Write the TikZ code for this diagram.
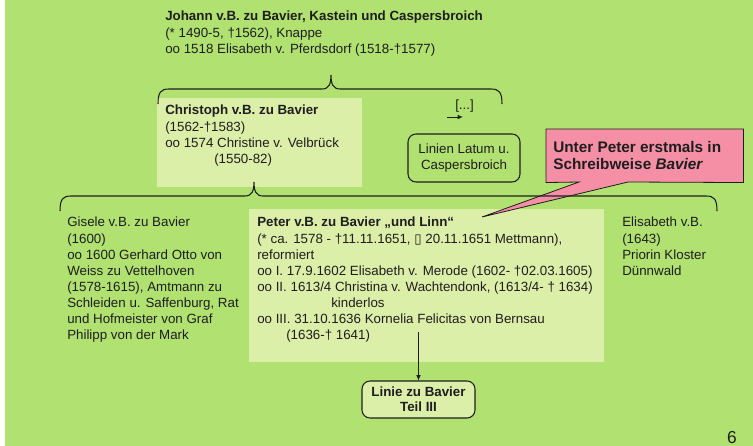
\documentclass[tikz,border=0pt]{standalone}
\usepackage{fontspec}
\setmainfont{Liberation Sans}
\newfontfamily\symfont{DejaVu Sans}
\usetikzlibrary{arrows.meta}
\definecolor{leaf}{RGB}{177,225,113}
\definecolor{pale}{RGB}{220,239,169}
\definecolor{rose}{RGB}{245,143,165}
\definecolor{ink}{RGB}{30,30,30}
\tikzset{
  txt/.style={anchor=north west,inner sep=0pt,align=left,text=ink,font=\fontsize{10}{12.1}\selectfont},
  panel/.style={fill=pale,inner sep=0pt,anchor=north west},
  rbox/.style={draw=ink,rounded corners=6pt,line width=0.8pt,align=center,text=ink,font=\fontsize{10}{11.4}\selectfont,inner sep=0pt},
  brace/.style={draw=ink,line width=0.8pt},
  tip/.style={-{Latex[length=4pt,width=3.5pt]},draw=ink,line width=0.6pt}
}
\newcommand{\kinbrace}[4]{%
  \draw[brace] (#1,#4+15) .. controls (#1,#4+3) and (#1+3,#4) .. (#1+11,#4) -- (#2-9,#4)
    .. controls (#2-2,#4) and (#2,#4-5) .. (#2,#4-14) .. controls (#2,#4-5) and (#2+2,#4) .. (#2+9,#4)
    -- (#3-11,#4) .. controls (#3-3,#4) and (#3,#4+3) .. (#3,#4+15);}
\begin{document}
\begin{tikzpicture}[x=0.75pt,y=-0.75pt]
  \useasboundingbox (0,0) rectangle (753,446);
  \fill[leaf] (5,0) rectangle (753,446);
  \node[panel,minimum width=205*0.75pt,minimum height=89*0.75pt] (christophbox) at (157,98) {};
  \node[panel,minimum width=355*0.75pt,minimum height=153*0.75pt] (peterbox) at (249,209) {};
  \node[txt] (johann) at (165,11) {\textbf{Johann v.B. zu Bavier, Kastein und Caspersbroich}\\(* 1490-5, †1562), Knappe\\oo 1518 Elisabeth v. Pferdsdorf (1518-†1577)};
  \node[txt] (christoph) at (165,105) {\textbf{Christoph v.B. zu Bavier}\\(1562-†1583)\\oo 1574 Christine v. Velbrück\\\hspace*{36.75pt}(1550-82)};
  \node[txt] (more) at (455,100) {[...]};
  \coordinate (moretail) at (447,117);
  \draw[tip] (moretail) -- (463,117);
  \node[rbox,minimum width=112*0.75pt,minimum height=48*0.75pt] (linien) at (464,158) {Linien Latum u.\\Caspersbroich};
  \node[inner sep=0pt,anchor=north west,minimum width=197*0.75pt,minimum height=53*0.75pt] (note) at (546,129) {};
  \coordinate (notetip) at (482,217);
  \path[fill=rose,draw=ink,line width=0.6pt] (note.north west) -- (note.north east) -- (note.south east)
    -- (628,182) -- (notetip) -- (579,182) -- (note.south west) -- cycle;
  \node[txt,font=\fontsize{11.5}{13.2}\selectfont\bfseries] (notetext) at (553,141) {Unter Peter erstmals in\\Schreibweise \textit{Bavier}};
  \node[txt] (gisele) at (67,217) {Gisele v.B. zu Bavier\\(1600)\\oo 1600 Gerhard Otto von\\Weiss zu Vettelhoven\\(1578-1615), Amtmann zu\\Schleiden u. Saffenburg, Rat\\und Hofmeister von Graf\\Philipp von der Mark};
  \node[txt] (peter) at (257,217) {\textbf{Peter v.B. zu Bavier „und Linn“}\\(* ca. 1578 - †11.11.1651, {\symfont ▯} 20.11.1651 Mettmann),\\reformiert\\oo I. 17.9.1602 Elisabeth v. Merode (1602- †02.03.1605)\\oo II. 1613/4 Christina v. Wachtendonk, (1613/4- † 1634)\\\hspace*{55.5pt}kinderlos\\oo III. 31.10.1636 Kornelia Felicitas von Bernsau\\\hspace*{21.75pt}(1636-† 1641)};
  \node[txt] (elisabeth) at (622,217) {Elisabeth v.B.\\(1643)\\Priorin Kloster\\Dünnwald};
  \node[rbox,fill=pale,font=\fontsize{10}{11.4}\selectfont\bfseries,minimum width=113*0.75pt,minimum height=37*0.75pt] (linie) at (418.5,399.5) {Linie zu Bavier\\Teil III};
  \coordinate (peterfoot) at (418.5,332);
  \draw[tip] (peterfoot) -- (linie.north);
  \kinbrace{158}{331}{502}{89}
  \kinbrace{60}{254}{717}{196}
  \node[anchor=base,inner sep=0pt,text=ink,font=\fontsize{13}{15}\selectfont] (page) at (732,443) {6};
\end{tikzpicture}
\end{document}
